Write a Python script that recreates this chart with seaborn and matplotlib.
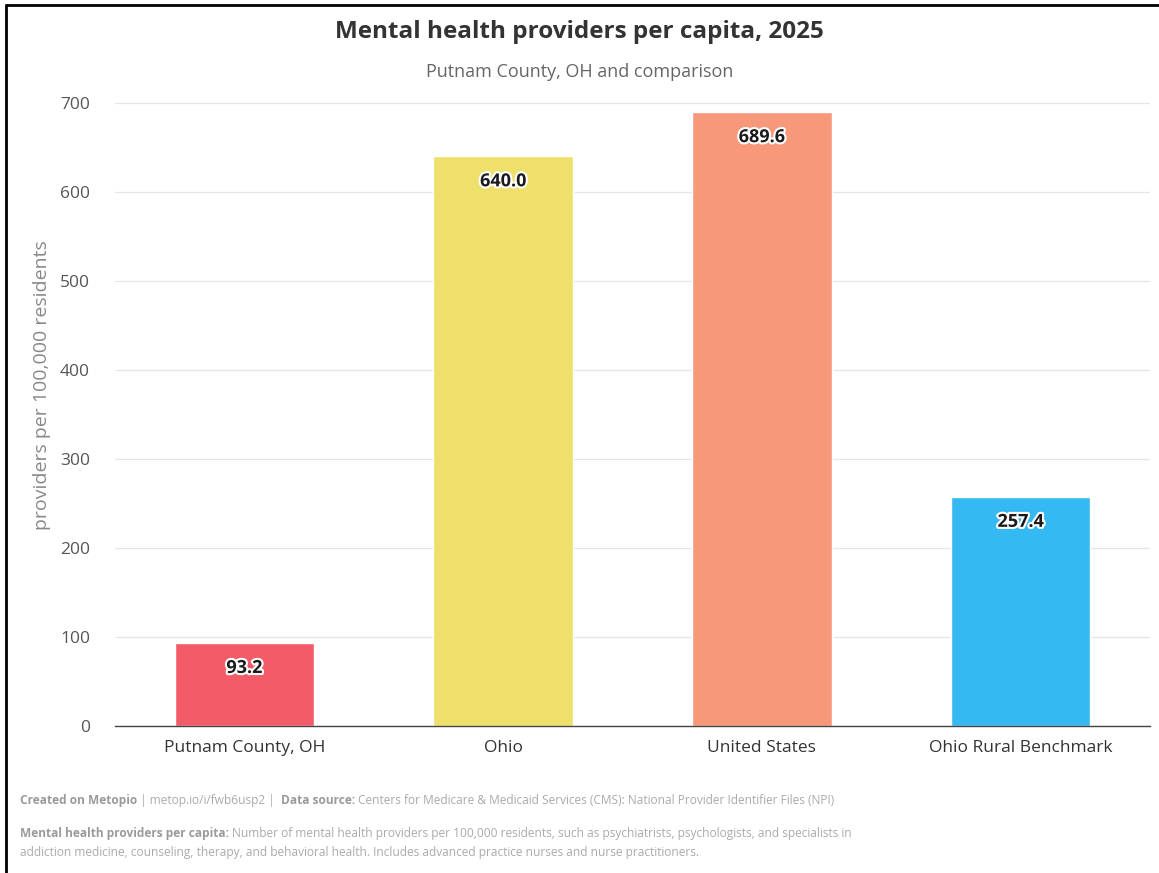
import matplotlib
matplotlib.use("Agg")
import matplotlib.pyplot as plt
import matplotlib.patheffects as pe
import seaborn as sns
import pandas as pd
from matplotlib.lines import Line2D

regions = ["Putnam County, OH", "Ohio", "United States", "Ohio Rural Benchmark"]
providers = [93.2, 640.0, 689.6, 257.4]
bar_colors = ["#F45B69", "#EEE06B", "#F8987B", "#35B9F3"]
y_ticks = [0, 100, 200, 300, 400, 500, 600, 700]

df = pd.DataFrame({"region": regions, "providers": providers})

sns.set_theme(style="white")
plt.rcParams["font.family"] = ["Open Sans", "DejaVu Sans"]

W, H = 1159, 873
fig = plt.figure(figsize=(W / 100, H / 100), dpi=100)
ax = fig.add_axes([115 / W, 1 - 726 / H, (1150 - 115) / W, (726 - 103) / H * (720 / 700)])

sns.barplot(data=df, x="region", y="providers", hue="region", palette=bar_colors,
            width=0.54, saturation=1, legend=False, ax=ax, zorder=2)

ax.set_ylim(0, 720)
ax.set_xlim(-0.5, 3.5)
ax.set_yticks(y_ticks)
ax.set_yticklabels([str(t) for t in y_ticks], color="#555555", fontsize=12.5)
ax.tick_params(axis="x", labelsize=12.5, labelcolor="#333333", pad=10, length=0)
ax.tick_params(axis="y", pad=18, length=0)
ax.grid(axis="y", color="#E6E6E6", linewidth=0.9, zorder=0)
for side in ["top", "right", "left"]:
    ax.spines[side].set_visible(False)
ax.spines["bottom"].set_color("#444444")
ax.spines["bottom"].set_linewidth(1.0)
ax.set_xlabel("")
ax.set_ylabel("")
fig.text(42 / W, 1 - 385 / H, "providers per 100,000 residents", rotation=90,
         ha="center", va="center", fontsize=14, color="#888888")

for i, v in enumerate(providers):
    ax.text(i, v - 28, f"{v:.1f}", ha="center", va="center", fontsize=13,
            fontweight="bold", color="#1a1a1a", zorder=4,
            path_effects=[pe.withStroke(linewidth=3, foreground="white")])

fig.text(0.5, 1 - 32 / H, "Mental health providers per capita, 2025", ha="center", va="center",
         fontsize=17.5, fontweight="bold", color="#333333")
fig.text(0.5, 1 - 72 / H, "Putnam County, OH and comparison", ha="center", va="center",
         fontsize=13, color="#666666")

# footer: bold lead-ins followed by regular text, laid out left to right
renderer = fig.canvas.get_renderer()


def text_run(y_px, pieces, x_px=20, size=8.6):
    x = x_px
    for s, bold in pieces:
        t = fig.text(x / W, 1 - y_px / H, s, ha="left", va="baseline", fontsize=size,
                     fontweight="bold" if bold else "normal",
                     color="#9a9a9a" if bold else "#aaaaaa")
        bb = t.get_window_extent(renderer=renderer)
        x += bb.width + (3 if s.endswith(" ") or s.endswith(":") else 0)


text_run(804, [("Created on Metopio", True), (" | metop.io/i/fwb6usp2 | ", False),
               ("Data source:", True),
               ("Centers for Medicare & Medicaid Services (CMS): National Provider Identifier Files (NPI)", False)])
text_run(837, [("Mental health providers per capita:", True),
               ("Number of mental health providers per 100,000 residents, such as psychiatrists, "
                "psychologists, and specialists in", False)])
text_run(856, [("addiction medicine, counseling, therapy, and behavioral health. Includes advanced "
                "practice nurses and nurse practitioners.", False)])

# frame lines along top and left edges
fig.add_artist(Line2D([6 / W, 1], [1 - 5 / H, 1 - 5 / H], color="black", linewidth=2,
                      transform=fig.transFigure))
fig.add_artist(Line2D([6 / W, 6 / W], [0, 1 - 5 / H], color="black", linewidth=2,
                      transform=fig.transFigure))

fig.savefig("out.png", dpi=100, facecolor="white")
